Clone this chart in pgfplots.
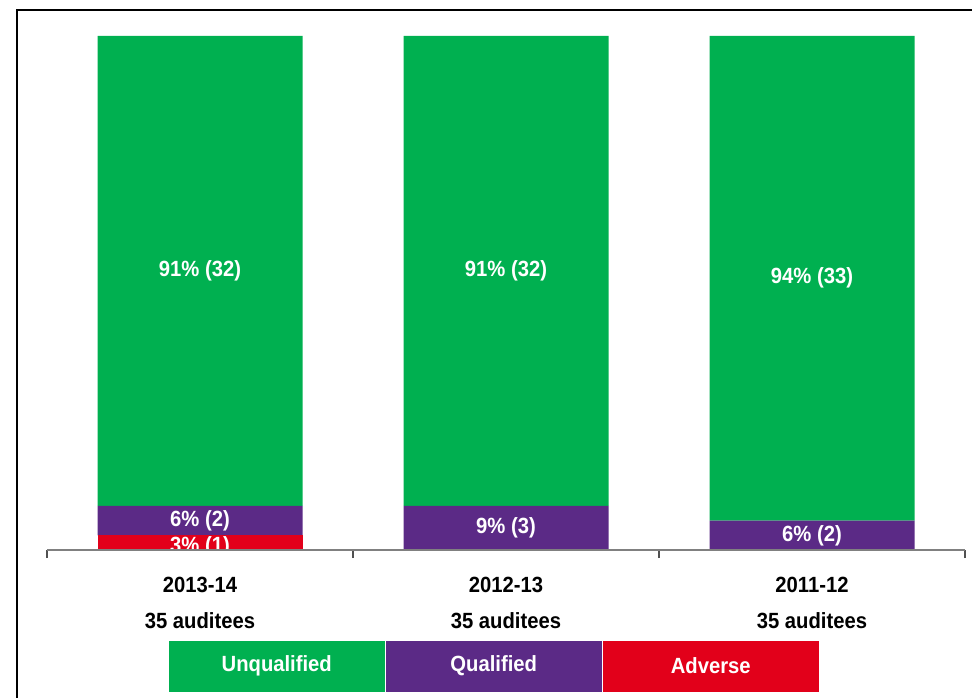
\documentclass[border=0pt]{standalone}
\usepackage{pgfplots}
\pgfplotsset{compat=1.18}
\usepackage{fontspec}
\setmainfont[FakeStretch=0.92]{Liberation Sans}
\definecolor{cgreen}{RGB}{0,176,80}
\definecolor{cpurple}{RGB}{91,42,134}
\definecolor{cred}{RGB}{226,0,26}
\definecolor{caxis}{RGB}{128,128,128}
\definecolor{ctick}{RGB}{80,80,80}
\begin{document}
\begin{tikzpicture}
\tikzset{lab/.style={text=white, font=\bfseries\fontsize{22}{26}\selectfont}}
\useasboundingbox (0,0) rectangle (972pt,697pt);
\draw[line width=1.5pt] (17pt,-2pt) -- (17pt,687pt) -- (975pt,687pt);
\begin{axis}[
  at={(47pt,147pt)}, anchor=south west,
  scale only axis, width=918pt, height=514pt,
  xmin=-0.5, xmax=2.5, ymin=0, ymax=100,
  ybar stacked, bar width=205pt,
  axis x line*=bottom, axis y line=none, ytick=\empty,
  xtick={0,1,2},
  xticklabels={{2013-14\\35 auditees},{2012-13\\35 auditees},{2011-12\\35 auditees}},
  major tick length=0pt,
  minor xtick={-0.5,0.5,1.5,2.5}, minor tick length=8pt, tick align=outside,
  x axis line style={caxis, line width=1.5pt},
  every tick/.style={ctick, line width=1.2pt},
  xticklabel style={font=\bfseries\fontsize{22}{36}\selectfont, align=center, text=black, yshift=-24pt},
  clip=false,
]
\addplot[fill=cred, draw=none] coordinates {(0,2.857) (1,0) (2,0)};
\addplot[fill=cpurple, draw=none] coordinates {(0,5.714) (1,8.571) (2,5.714)};
\addplot[fill=cgreen, draw=none] coordinates {(0,91.429) (1,91.429) (2,94.286)};
\coordinate (g1) at (axis cs:0,54.29);
\coordinate (g2) at (axis cs:1,54.29);
\coordinate (g3) at (axis cs:2,52.86);
\coordinate (p1) at (axis cs:0,5.714);
\coordinate (p2) at (axis cs:1,4.286);
\coordinate (p3) at (axis cs:2,2.857);
\coordinate (redlab) at (axis cs:0,0.55);
\coordinate (cA) at (axis cs:-0.5,0);
\coordinate (cB) at (axis cs:2.5,100);
\end{axis}
\node[lab] at (g1) {91\% (32)};
\node[lab] at (g2) {91\% (32)};
\node[lab] at (g3) {94\% (33)};
\node[lab] at (p1) {6\% (2)};
\node[lab] at (p2) {9\% (3)};
\node[lab] at (p3) {6\% (2)};
\begin{scope}
\clip (cA) rectangle (cB);
\node[lab] at (redlab) {3\% (1)};
\end{scope}
\draw[caxis, line width=1.5pt] (cA) -- (cA -| cB);
\tikzset{leg/.style={minimum width=217pt, minimum height=52pt, anchor=south west, inner sep=0pt, text=white, draw=white, line width=0.5pt, font=\bfseries\fontsize{22}{26}\selectfont}}
\node[leg, fill=cgreen] at (168pt,5pt) {Unqualified};
\node[leg, fill=cpurple] at (385pt,5pt) {Qualified};
\node[leg, fill=cred] at (602pt,5pt) {Adverse};
\end{tikzpicture}
\end{document}
